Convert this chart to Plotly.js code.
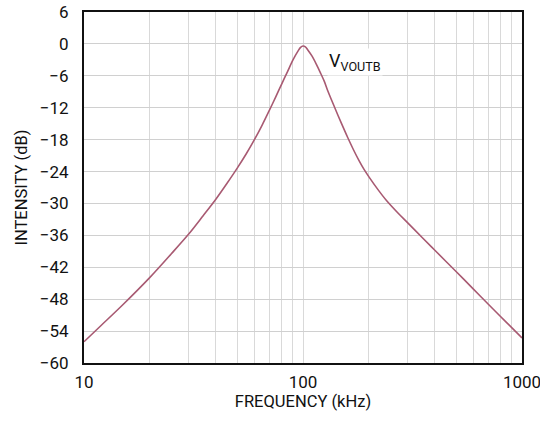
<!DOCTYPE html>
<html>
<head>
<meta charset="utf-8">
<script src="https://cdn.plot.ly/plotly-3.0.1.min.js"></script>
<style>html,body{margin:0;padding:0;background:#fff;}#chart{width:540px;height:422px;}</style>
</head>
<body>
<div id="chart"></div>
<script>
// Frequency (kHz) and response (dB)
const freqKHz = [10, 12, 15, 20, 25, 30, 35, 40, 45, 50, 55, 60, 65, 70, 75, 80, 85, 90, 95, 97.5, 100,
                 102.5, 105, 110, 115, 120, 125, 130, 140, 150, 160, 170, 180, 190, 200, 220, 240,
                 270, 300, 350, 400, 500, 600, 700, 800, 900, 1000];
const intensityDb = [-56.0, -52.9, -49.1, -43.9, -39.5, -35.8, -32.3, -29.2, -26.2, -23.4, -20.7, -18.0,
                     -15.3, -12.6, -10.0, -7.5, -5.2, -3.0, -1.3, -0.65, -0.4,
                     -0.55, -1.1, -2.3, -3.8, -5.4, -7.0, -8.9, -12.1, -15.0, -17.6, -19.9, -21.9, -23.6,
                     -25.0, -27.4, -29.4, -31.7, -33.6, -36.4, -38.8, -42.8, -46.1, -48.9, -51.3, -53.4, -55.3];

const yTicks = [-60, -54, -48, -42, -36, -30, -24, -18, -12, -6, 0, 6];
const yTickText = ['\u221260', '\u221254', '\u221248', '\u221242', '\u221236', '\u221230',
                   '\u221224', '\u221218', '\u221212', '\u22126', '0', '6'];
const xTicks = [10, 20, 30, 40, 50, 60, 70, 80, 90, 100, 200, 300, 400, 500, 600, 700, 800, 900, 1000];
const xTickText = ['10', ' ', ' ', ' ', ' ', ' ', ' ', ' ', ' ', '100', ' ', ' ', ' ', ' ', ' ', ' ', ' ', ' ', '1000'];

const seriesName = 'V<sub>VOUTB</sub>';
const xTitle = 'FREQUENCY (kHz)';
const yTitle = 'INTENSITY (dB)';

const fontFam = '"Liberation Sans Narrow", "Roboto", "Liberation Sans", sans-serif';

const trace = {
  x: freqKHz,
  y: intensityDb,
  type: 'scatter',
  mode: 'lines',
  line: {color: '#a85a72', width: 1.6, shape: 'spline', smoothing: 0.9},
  hoverinfo: 'skip',
  showlegend: false
};

const layout = {
  width: 540,
  height: 422,
  margin: {l: 84, r: 18, t: 12, b: 59},
  paper_bgcolor: '#ffffff',
  plot_bgcolor: '#ffffff',
  font: {family: fontFam, size: 16, color: '#111'},
  showlegend: false,
  xaxis: {
    type: 'log',
    range: [1, 3],
    tickvals: xTicks,
    ticktext: xTickText,
    tickangle: 0,
    ticks: '',
    ticklabelstandoff: 3,
    ticklabeloverflow: 'allow',
    showgrid: true,
    gridcolor: '#d9d9d9',
    gridwidth: 1,
    showline: true,
    mirror: true,
    linecolor: '#111',
    linewidth: 2,
    zeroline: false,
    tickfont: {family: fontFam, size: 17, color: '#111'},
    title: {text: xTitle, font: {family: fontFam, size: 16.5, color: '#111'}, standoff: 1}
  },
  yaxis: {
    range: [-60, 6],
    tickvals: yTicks,
    ticktext: yTickText,
    tickangle: 0,
    ticks: '',
    ticklabelstandoff: 10,
    showgrid: true,
    gridcolor: '#d0d0d0',
    gridwidth: 1,
    showline: true,
    mirror: true,
    linecolor: '#111',
    linewidth: 2,
    zeroline: false,
    tickfont: {family: fontFam, size: 17, color: '#111'},
    title: {text: yTitle, font: {family: fontFam, size: 16.5, color: '#111'}, standoff: 8}
  },
  annotations: [{
    text: seriesName,
    xref: 'paper', yref: 'paper',
    x: 0.555, y: 0.858,
    xanchor: 'left', yanchor: 'middle',
    showarrow: false,
    bgcolor: '#ffffff',
    borderpad: 1,
    font: {family: fontFam, size: 18, color: '#111'}
  }]
};

Plotly.newPlot('chart', [trace], layout, {displayModeBar: false, staticPlot: true});
</script>
</body>
</html>
